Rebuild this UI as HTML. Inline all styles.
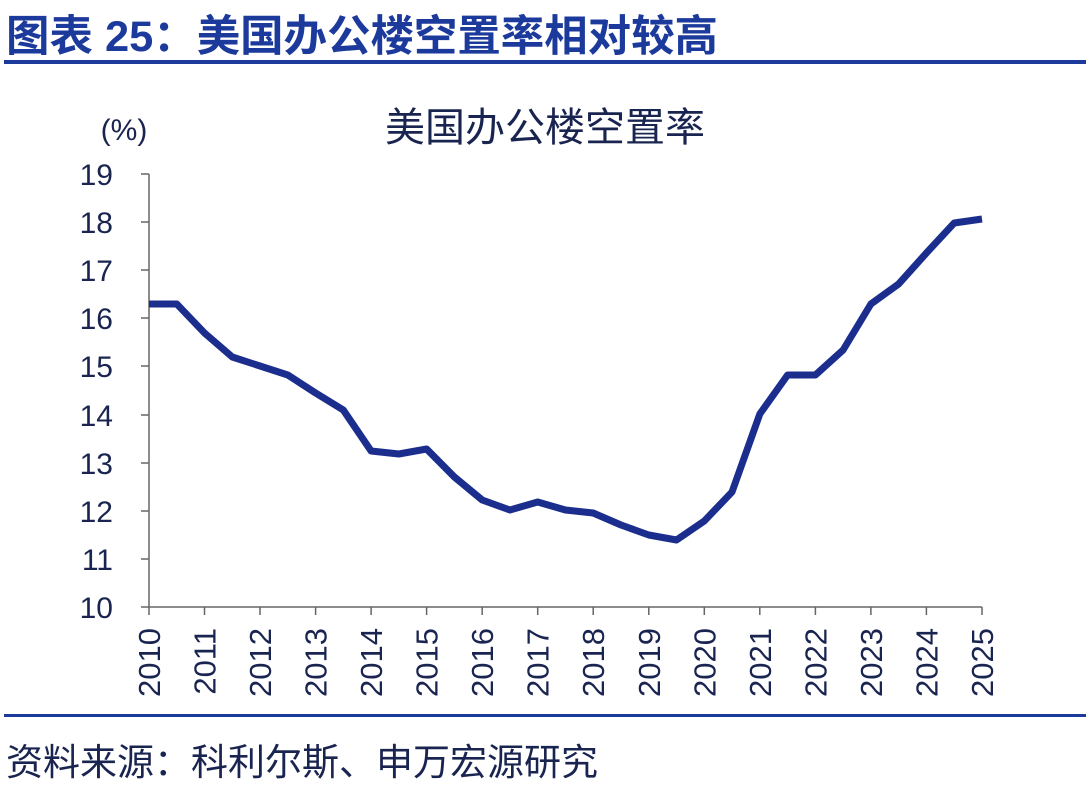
<!DOCTYPE html>
<html><head><meta charset="utf-8"><style>
body{margin:0;width:1092px;height:790px;background:#fff;overflow:hidden;font-family:"Liberation Sans","Noto Sans CJK SC",sans-serif}
</style></head><body>
<svg width="1092" height="790" xmlns="http://www.w3.org/2000/svg" font-family="Liberation Sans, Noto Sans CJK SC, sans-serif">
<text x="6" y="51" font-size="43" font-weight="bold" fill="#1c3a9c" textLength="712" lengthAdjust="spacingAndGlyphs">图表 25：美国办公楼空置率相对较高</text>
<rect x="4" y="60" width="1082" height="4" fill="#1c3a9c"/>
<text x="545" y="141" font-size="40" fill="#1a2450" text-anchor="middle">美国办公楼空置率</text>
<text x="124" y="140" font-size="30" fill="#1a2450" text-anchor="middle">(%)</text>
<g stroke="#666" stroke-width="1.5" fill="none">
<path d="M149 174V607H982"/>
<path d="M141 174H149M141 222H149M141 270H149M141 318H149M141 366H149M141 415H149M141 463H149M141 511H149M141 559H149M141 607H149"/>
<path d="M149 607v8M204.5 607v8M260 607v8M315.6 607v8M371.1 607v8M426.6 607v8M482.2 607v8M537.7 607v8M593.2 607v8M648.8 607v8M704.3 607v8M759.8 607v8M815.4 607v8M870.9 607v8M926.4 607v8M982 607v8"/>
</g>
<g font-size="30" fill="#1a2450" text-anchor="end">
<text x="113" y="185">19</text><text x="113" y="233">18</text><text x="113" y="281">17</text><text x="113" y="329">16</text><text x="113" y="377">15</text><text x="113" y="426">14</text><text x="113" y="474">13</text><text x="113" y="522">12</text><text x="113" y="570">11</text><text x="113" y="618">10</text>
</g>
<g font-size="31" fill="#1a2450" text-anchor="end">
<text transform="translate(160,628) rotate(-90)">2010</text>
<text transform="translate(215.5,628) rotate(-90)">2011</text>
<text transform="translate(271,628) rotate(-90)">2012</text>
<text transform="translate(326.6,628) rotate(-90)">2013</text>
<text transform="translate(382.1,628) rotate(-90)">2014</text>
<text transform="translate(437.6,628) rotate(-90)">2015</text>
<text transform="translate(493.2,628) rotate(-90)">2016</text>
<text transform="translate(548.7,628) rotate(-90)">2017</text>
<text transform="translate(604.2,628) rotate(-90)">2018</text>
<text transform="translate(659.8,628) rotate(-90)">2019</text>
<text transform="translate(715.3,628) rotate(-90)">2020</text>
<text transform="translate(770.8,628) rotate(-90)">2021</text>
<text transform="translate(826.4,628) rotate(-90)">2022</text>
<text transform="translate(881.9,628) rotate(-90)">2023</text>
<text transform="translate(937.4,628) rotate(-90)">2024</text>
<text transform="translate(993,628) rotate(-90)">2025</text>
</g>
<polyline fill="none" stroke="#1b2e8e" stroke-width="7" stroke-linejoin="round" points="149,304 176.8,304 204.5,333 232.3,357 260,366 287.8,375 315.6,393 343.3,410 371.1,451 398.8,454 426.6,449 454.4,477 482.2,500 509.9,510 537.7,502 565.4,510 593.2,513 621,525 648.8,535 676.5,540 704.3,521 732,492 759.8,414 787.6,375 815.4,375 843.1,350 870.9,304 898.6,284 926.4,253 954.2,223 982,219"/>
<rect x="4" y="714" width="1082" height="3" fill="#1c3a9c"/>
<text x="6" y="775" font-size="37" fill="#1a2450">资料来源：科利尔斯、申万宏源研究</text>
</svg>
</body></html>
